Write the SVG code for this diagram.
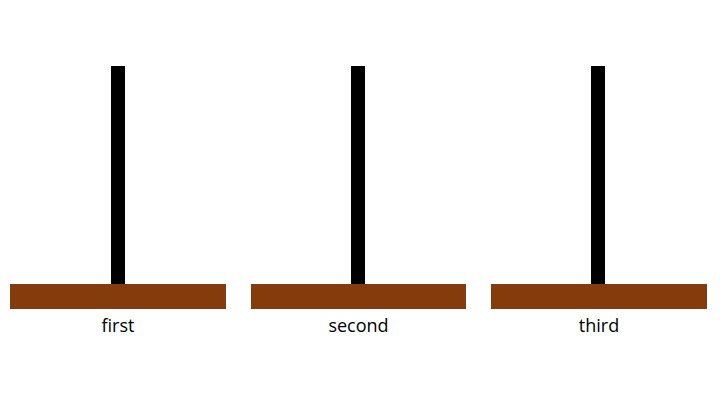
<svg xmlns="http://www.w3.org/2000/svg" width="720" height="405" viewBox="0 0 720 405">
<style>
.base{fill:#843C0C}
.pole{fill:#000}
.lbl{font-family:"Open Sans","Liberation Sans",sans-serif;font-size:18px;fill:#000;text-anchor:middle}
</style>
<rect width="720" height="405" fill="#fff"/>
<g id="tower-first">
<rect class="pole" x="111" y="66" width="14" height="218"/>
<rect class="base" x="10" y="284" width="216" height="25"/>
<text class="lbl" x="118" y="332">first</text>
</g>
<g id="tower-second">
<rect class="pole" x="351" y="66" width="14" height="218"/>
<rect class="base" x="251" y="284" width="215" height="25"/>
<text class="lbl" x="358.5" y="332">second</text>
</g>
<g id="tower-third">
<rect class="pole" x="591" y="66" width="14" height="218"/>
<rect class="base" x="491" y="284" width="216" height="25"/>
<text class="lbl" x="599" y="332">third</text>
</g>
<g id="connectors"/>
</svg>
